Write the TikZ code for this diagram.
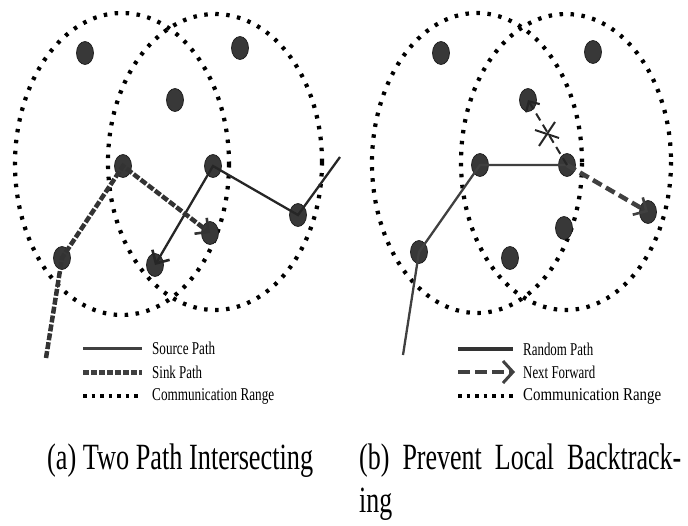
\documentclass[tikz,border=0pt]{standalone}
\usepackage{fontspec}
\setmainfont{Liberation Serif}
\usepackage{graphicx}
\usetikzlibrary{arrows.meta,shapes.geometric}

\newcommand{\squeezeto}[2]{\resizebox{#1}{\height}{#2}}

\begin{document}
\begin{tikzpicture}[x=1pt, y=-1pt,
    sensor/.style={ellipse, draw=black!90, fill=black!78, line width=0.7pt,
      minimum width=17pt, minimum height=23pt, inner sep=0pt},
    commrange/.style={draw=black, line width=4.2pt, dash pattern=on 3.5pt off 7.5pt},
    solidpath/.style={draw=black!85, line width=2.3pt},
    sinkpath/.style={draw=black!80, line width=4.5pt, dash pattern=on 7pt off 2pt},
    fwdpath/.style={draw=black!75, line width=4.5pt, dash pattern=on 10pt off 5pt},
    barb/.style={-{Straight Barb[length=10pt, width=20pt, line width=2.6pt]}},
    legtext/.style={anchor=west, inner sep=0pt, font=\fontsize{18}{20}\selectfont},
    caption/.style={anchor=base west, inner sep=0pt, font=\fontsize{37}{42}\selectfont}]
    \useasboundingbox (0,0) rectangle (688,525);

    % (a) two path intersecting
    \draw[commrange] (122,164) ellipse [x radius=107, y radius=151];
    \draw[commrange] (215,162) ellipse [x radius=107, y radius=148];
    \node[sensor] (a1) at (85,53) {};
    \node[sensor] (a2) at (240,48) {};
    \node[sensor] (a3) at (175,100) {};
    \node[sensor] (a4) at (123,166) {};
    \node[sensor] (a5) at (213,166) {};
    \node[sensor] (a6) at (298,215) {};
    \node[sensor] (a7) at (210,233) {};
    \node[sensor] (a8) at (155,265) {};
    \node[sensor] (a9) at (62,258) {};
    \coordinate (asrc) at (340,157);
    \coordinate (asnk) at (46,358);
    \draw[solidpath, barb] (asrc) -- (a6.center) -- (a5.center) -- (a8.center);
    \draw[sinkpath, barb] (asnk) -- (a9.center) -- (a4.center) -- (a7.center);

    \node[legtext] (lsrc) at (152,348) {\squeezeto{63pt}{Source Path}};
    \node[legtext] (lsnk) at (152,372) {\squeezeto{50pt}{Sink Path}};
    \node[legtext] (lrng) at (152,396) {\squeezeto{122pt}{Communication Range}};
    \draw[draw=black!75, line width=3pt] ([xshift=-69pt]lsrc.west) -- ([xshift=-10pt]lsrc.west);
    \draw[draw=black!75, line width=5pt, dash pattern=on 6pt off 2pt] ([xshift=-69pt]lsnk.west) -- ([xshift=-10pt]lsnk.west);
    \draw[draw=black, line width=4.5pt, dash pattern=on 3.5pt off 5pt] ([xshift=-69pt]lrng.west) -- ([xshift=-10pt]lrng.west);

    \node[caption] (capa) at (47,469) {\squeezeto{266pt}{(a) Two Path Intersecting}};

    % (b) prevent local backtracking
    \draw[commrange] (477,163) ellipse [x radius=105, y radius=150];
    \draw[commrange] (566,162) ellipse [x radius=105, y radius=148];
    \node[sensor] (b1) at (441,53) {};
    \node[sensor] (b2) at (593,52) {};
    \node[sensor] (b3) at (528,100) {};
    \node[sensor] (b4) at (480,165) {};
    \node[sensor] (b5) at (567,165) {};
    \node[sensor] (b6) at (648,212) {};
    \node[sensor] (b7) at (564,228) {};
    \node[sensor] (b8) at (510,258) {};
    \node[sensor] (b9) at (419,252) {};
    \coordinate (bstart) at (403,355);
    \coordinate (xmark) at (547,134);
    \draw[solidpath, draw=black!75] (bstart) -- (b9.center) -- (b4.center) -- (b5.center);
    \draw[fwdpath, barb] (b5.center) -- (b6.center);
    \draw[draw=black!85, line width=2pt, dash pattern=on 8pt off 5pt,
      -{Straight Barb[length=8pt, width=16pt, line width=2.2pt]}] (b5.center) -- (b3.center);
    \draw[draw=black!85, line width=2pt] ([shift={(-8,12)}]xmark) -- ([shift={(8,-12)}]xmark);
    \draw[draw=black!85, line width=2pt] ([shift={(-12,-4)}]xmark) -- ([shift={(12,4)}]xmark);

    \node[legtext] (lrnd) at (523,349) {\squeezeto{70pt}{Random Path}};
    \node[legtext] (lnxt) at (523,372) {\squeezeto{72pt}{Next Forward}};
    \node[legtext] (lrng2) at (523,396) {\squeezeto{138pt}{Communication Range}};
    \draw[draw=black!80, line width=4pt] ([xshift=-65pt]lrnd.west) -- ([xshift=-10pt]lrnd.west);
    \draw[draw=black!75, line width=4pt, dash pattern=on 12pt off 5pt,
      -{Straight Barb[length=10pt, width=22pt, line width=3pt]}] ([xshift=-65pt]lnxt.west) -- ([xshift=-8pt]lnxt.west);
    \draw[draw=black, line width=4.5pt, dash pattern=on 3.5pt off 5pt] ([xshift=-65pt]lrng2.west) -- ([xshift=-10pt]lrng2.west);

    \node[caption] (capb) at (359,469) {\squeezeto{322pt}{(b)\hspace{0.5em}Prevent\hspace{0.5em}Local\hspace{0.5em}Backtrack-}};
    \node[caption] (capb2) at (359,512) {\scalebox{0.7}[1]{ing}};
\end{tikzpicture}
\end{document}
